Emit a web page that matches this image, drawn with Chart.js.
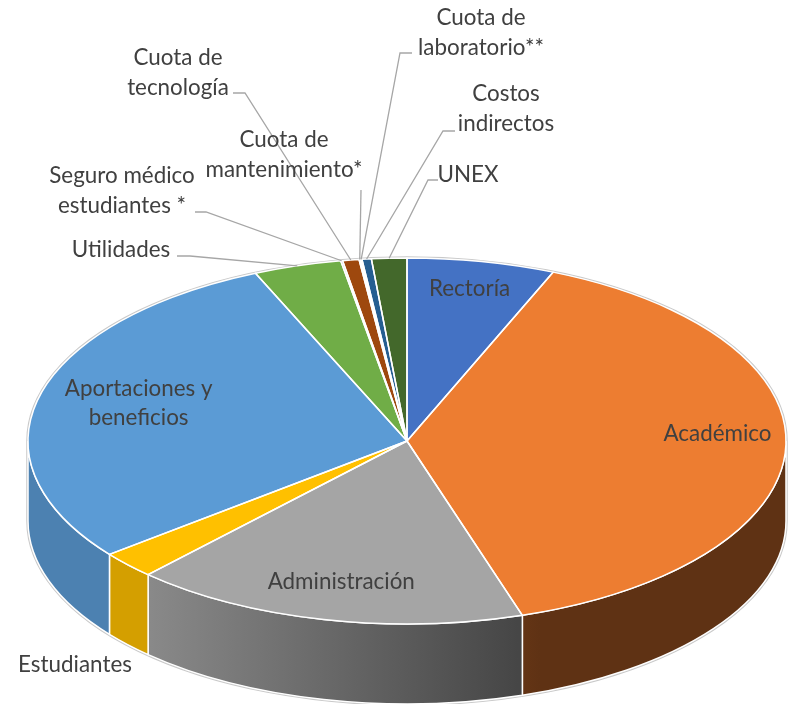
<!DOCTYPE html>
<html><head><meta charset="utf-8">
<script src="https://cdn.jsdelivr.net/npm/chart.js@4/dist/chart.umd.min.js"></script>
<style>html,body{margin:0;padding:0;background:#fff;}#wrap{width:792px;height:704px;}</style>
</head><body><div id="wrap"><canvas id="c" width="792" height="704"></canvas></div>
<script>
// ---- data ----
const categories = ['Rectoría','Académico','Administración','Estudiantes','Aportaciones y\nbeneficios','Utilidades','Seguro médico\nestudiantes *','Cuota de\ntecnología','Cuota de\nmantenimiento*','Cuota de\nlaboratorio**','Costos\nindirectos','UNEX'];
const values = [6.3, 38.8, 16.9, 2.4, 29.1, 3.75, 0.08, 0.7, 0.06, 0.06, 0.4, 1.5];
const colors = ['#4472C4','#ED7D31','#A5A5A5','#FFC000','#5B9BD5','#70AD47','#264478','#9E480E','#636363','#997300','#255E91','#43682B'];

// ---- layout (styling, not data) ----
const E = {cx:407, cy:441, rx:379, ry:183, depth:80};
const FONT = '22.4px Lato';
const TEXT = '#404040';
const LINE_H = 29.5;
// inside labels: radius fraction (+ small vertical nudge); outside labels: text anchor + leader start
const labelLayout = [
  {inside:0.84, dy:-1},
  {inside:0.82, dy:-14},
  {inside:0.79, dy:0},
  {x:75, y:665},
  {inside:0.73, dy:-5},
  {x:121, y:250, lead:[[177,256],[190,256]]},
  {x:122, y:176, lead:[[195,212],[206,212]]},
  {x:178, y:58,  lead:[[233,93],[245,93]]},
  {x:284, y:140, lead:[[361,190],[361,190]]},
  {x:481, y:18,  lead:[[412,53],[400,53]]},
  {x:506, y:94,  lead:[[455,131],[443,131]]},
  {x:468, y:175, lead:[[438,180],[428,180]]}
];

function shade(hex, f){
  const n = parseInt(hex.slice(1),16);
  const r = Math.round(((n>>16)&255)*f), g = Math.round(((n>>8)&255)*f), b = Math.round((n&255)*f);
  return `rgb(${r},${g},${b})`;
}
function geom(chart){
  const meta = chart.getDatasetMeta(0);
  const a0 = meta.data[0];
  return {meta, ox:a0.x, oy:a0.y, R:a0.outerRadius};
}
function ept(a, k){ k = k||1; return [E.cx + E.rx*k*Math.cos(a), E.cy + E.ry*k*Math.sin(a)]; }

const pie3d = {
  id:'pie3d',
  beforeDatasetsDraw(chart){
    const ctx = chart.ctx;
    const {meta, ox, oy, R} = geom(chart);
    // faint silhouette outline
    ctx.save();
    ctx.beginPath();
    ctx.ellipse(E.cx, E.cy, E.rx, E.ry, 0, Math.PI, 2*Math.PI, false);
    ctx.lineTo(E.cx+E.rx, E.cy+E.depth);
    ctx.ellipse(E.cx, E.cy+E.depth, E.rx, E.ry, 0, 0, Math.PI, false);
    ctx.closePath();
    ctx.strokeStyle = '#C9C9C9'; ctx.lineWidth = 3.5; ctx.stroke();
    ctx.restore();
    // side walls (front half only)
    meta.data.forEach((arc, i) => {
      const a = Math.max(arc.startAngle, 0), b = Math.min(arc.endAngle, Math.PI);
      if (b <= a) return;
      ctx.save();
      ctx.beginPath();
      ctx.ellipse(E.cx, E.cy, E.rx, E.ry, 0, a, b, false);
      ctx.lineTo(E.cx + E.rx*Math.cos(b), E.cy + E.ry*Math.sin(b) + E.depth);
      ctx.ellipse(E.cx, E.cy+E.depth, E.rx, E.ry, 0, b, a, true);
      ctx.closePath();
      const g = ctx.createLinearGradient(150, 0, 540, 0);
      g.addColorStop(0, shade(colors[i], 0.83));
      g.addColorStop(1, shade(colors[i], 0.40));
      ctx.fillStyle = g; ctx.fill();
      ctx.strokeStyle = '#FFFFFF'; ctx.lineWidth = 1.5; ctx.stroke();
      ctx.restore();
    });
    // tilt the top face into an ellipse
    ctx.save();
    ctx.translate(E.cx, E.cy);
    ctx.scale(E.rx/R, E.ry/R);
    ctx.translate(-ox, -oy);
  },
  afterDatasetsDraw(chart){
    const ctx = chart.ctx;
    ctx.restore();
    const {meta} = geom(chart);
    // white borders of top faces
    ctx.save();
    ctx.strokeStyle = '#FFFFFF'; ctx.lineWidth = 1.5; ctx.lineJoin = 'round';
    meta.data.forEach(arc => {
      ctx.beginPath();
      ctx.moveTo(E.cx, E.cy);
      const p = ept(arc.startAngle);
      ctx.lineTo(p[0], p[1]);
      ctx.ellipse(E.cx, E.cy, E.rx, E.ry, 0, arc.startAngle, arc.endAngle, false);
      ctx.closePath();
      ctx.stroke();
    });
    ctx.restore();
    // labels
    ctx.save();
    ctx.font = FONT; ctx.fillStyle = TEXT; ctx.textAlign = 'center'; ctx.textBaseline = 'middle';
    meta.data.forEach((arc, i) => {
      const L = labelLayout[i];
      const lines = chart.data.labels[i].split('\n');
      const mid = (arc.startAngle + arc.endAngle)/2;
      let x, y;
      if (L.inside) {
        const p = ept(mid, L.inside);
        x = p[0]; y = p[1] - (lines.length-1)*LINE_H/2 + (L.dy||0);
      } else {
        x = L.x; y = L.y;
        if (L.lead) {
          const end = ept(mid);
          ctx.save();
          ctx.strokeStyle = '#A6A6A6'; ctx.lineWidth = 1.3;
          ctx.beginPath();
          ctx.moveTo(L.lead[0][0], L.lead[0][1]);
          ctx.lineTo(L.lead[1][0], L.lead[1][1]);
          ctx.lineTo(end[0], end[1]);
          ctx.stroke();
          ctx.restore();
        }
      }
      lines.forEach((t, k) => ctx.fillText(t, x, y + k*LINE_H));
    });
    ctx.restore();
  }
};

new Chart(document.getElementById('c'), {
  type: 'pie',
  data: {
    labels: categories,
    datasets: [{ data: values, backgroundColor: colors, borderWidth: 0, hoverOffset: 0 }]
  },
  options: {
    responsive: false,
    animation: false,
    events: [],
    layout: { padding: 0 },
    plugins: { legend: { display: false }, tooltip: { enabled: false } }
  },
  plugins: [pie3d]
});
</script>
</body></html>
